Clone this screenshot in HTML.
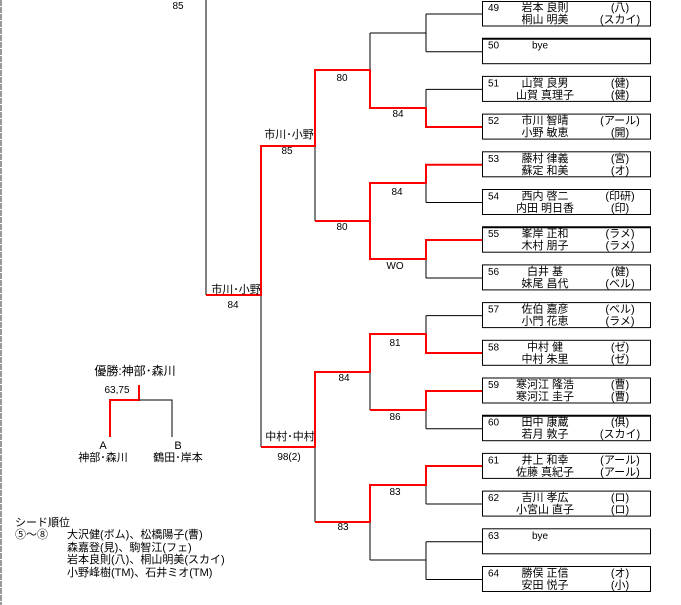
<!DOCTYPE html>
<html><head><meta charset="utf-8"><style>
html,body{margin:0;padding:0;background:#fff;width:681px;height:605px;overflow:hidden}
svg{display:block}
text{font-family:"Liberation Sans","Noto Sans CJK JP",sans-serif;font-size:11px;fill:#000}
.s{font-size:10px}
</style></head><body>
<svg width="681" height="605" viewBox="0 0 681 605" xmlns="http://www.w3.org/2000/svg">
<line x1="1" y1="0" x2="1" y2="605" stroke="#999" stroke-width="2" stroke-dasharray="6,1"/>
<g stroke="#000" stroke-width="1" fill="none">
<path d="M426 14H482M426 51.7H482M426 89.4H482M426 202.5H482M426 278H482M426 315.6H482M426 428.7H482M426 504H482M426 541.8H482M426 579.5H482"/>
<path d="M426 14V51.7M426 89.4V108M426 183V202.5M426 259V278M426 315.6V334M426 410V428.7M426 485V504M426 541.8V579.5"/>
<path d="M370 33H426M370 560H426"/>
<path d="M370 33V70M370 372V410M370 522V560"/>
<path d="M315 146V221M315 447V522M261 295V447M206 0V295"/>
</g>
<g stroke="#f00" stroke-width="2" fill="none">
<path d="M482 127H426V108H370V70H315V146H261V295H206"/>
<path d="M482 164.8H426V183H370V221H315"/>
<path d="M482 240H426V259H370V221"/>
<path d="M482 353H426V334H370V372H315V447H261"/>
<path d="M482 391H426V410H370"/>
<path d="M482 466H426V485H370V522H315"/>
<path d="M139 385V400H110V437"/>
</g>
<path d="M139 400H172V437" stroke="#000" fill="none"/>
<g fill="none" stroke="#000" stroke-width="1">
<rect x="482.5" y="1.5" width="168" height="24.5"/>
<rect x="482.5" y="38.7" width="168" height="25"/>
<rect x="482.5" y="76.4" width="168" height="25"/>
<rect x="482.5" y="114.1" width="168" height="25"/>
<rect x="482.5" y="151.8" width="168" height="25"/>
<rect x="482.5" y="189.5" width="168" height="25"/>
<rect x="482.5" y="227.2" width="168" height="25"/>
<rect x="482.5" y="264.9" width="168" height="25"/>
<rect x="482.5" y="302.6" width="168" height="25"/>
<rect x="482.5" y="340.3" width="168" height="25"/>
<rect x="482.5" y="378" width="168" height="25"/>
<rect x="482.5" y="415.7" width="168" height="25"/>
<rect x="482.5" y="453.4" width="168" height="25"/>
<rect x="482.5" y="491.1" width="168" height="25"/>
<rect x="482.5" y="528.8" width="168" height="25"/>
<rect x="482.5" y="566.5" width="168" height="25"/>
</g>
<path d="M482 38.7H651M482 227.2H651M482 415.7H651" stroke="#000" stroke-width="2"/>
<g>
<text class="s" x="488" y="11">49</text><text x="545" y="11" text-anchor="middle">岩本 良則</text><text x="620" y="11" text-anchor="middle">(八)</text>
<text x="545" y="23" text-anchor="middle">桐山 明美</text><text x="620" y="23" text-anchor="middle">(スカイ)</text>
<text class="s" x="488" y="48.7">50</text><text class="s" x="540" y="48.7" text-anchor="middle">bye</text>
<text class="s" x="488" y="86.4">51</text><text x="545" y="86.4" text-anchor="middle">山賀 良男</text><text x="620" y="86.4" text-anchor="middle">(健)</text>
<text x="545" y="98.4" text-anchor="middle">山賀 真理子</text><text x="620" y="98.4" text-anchor="middle">(健)</text>
<text class="s" x="488" y="124.1">52</text><text x="545" y="124.1" text-anchor="middle">市川 智晴</text><text x="620" y="124.1" text-anchor="middle">(アール)</text>
<text x="545" y="136.1" text-anchor="middle">小野 敏恵</text><text x="620" y="136.1" text-anchor="middle">(開)</text>
<text class="s" x="488" y="161.8">53</text><text x="545" y="161.8" text-anchor="middle">藤村 律義</text><text x="620" y="161.8" text-anchor="middle">(宮)</text>
<text x="545" y="173.8" text-anchor="middle">蘇定 和美</text><text x="620" y="173.8" text-anchor="middle">(オ)</text>
<text class="s" x="488" y="199.5">54</text><text x="545" y="199.5" text-anchor="middle">西内 啓二</text><text x="620" y="199.5" text-anchor="middle">(印研)</text>
<text x="545" y="211.5" text-anchor="middle">内田 明日香</text><text x="620" y="211.5" text-anchor="middle">(印)</text>
<text class="s" x="488" y="237.2">55</text><text x="545" y="237.2" text-anchor="middle">峯岸 正和</text><text x="620" y="237.2" text-anchor="middle">(ラメ)</text>
<text x="545" y="249.2" text-anchor="middle">木村 朋子</text><text x="620" y="249.2" text-anchor="middle">(ラメ)</text>
<text class="s" x="488" y="274.9">56</text><text x="545" y="274.9" text-anchor="middle">白井 基</text><text x="620" y="274.9" text-anchor="middle">(健)</text>
<text x="545" y="286.9" text-anchor="middle">妹尾 昌代</text><text x="620" y="286.9" text-anchor="middle">(ベル)</text>
<text class="s" x="488" y="312.6">57</text><text x="545" y="312.6" text-anchor="middle">佐伯 嘉彦</text><text x="620" y="312.6" text-anchor="middle">(ベル)</text>
<text x="545" y="324.6" text-anchor="middle">小門 花恵</text><text x="620" y="324.6" text-anchor="middle">(ラメ)</text>
<text class="s" x="488" y="350.3">58</text><text x="545" y="350.3" text-anchor="middle">中村 健</text><text x="620" y="350.3" text-anchor="middle">(ゼ)</text>
<text x="545" y="362.3" text-anchor="middle">中村 朱里</text><text x="620" y="362.3" text-anchor="middle">(ゼ)</text>
<text class="s" x="488" y="388">59</text><text x="545" y="388" text-anchor="middle">寒河江 隆浩</text><text x="620" y="388" text-anchor="middle">(曹)</text>
<text x="545" y="400" text-anchor="middle">寒河江 圭子</text><text x="620" y="400" text-anchor="middle">(曹)</text>
<text class="s" x="488" y="425.7">60</text><text x="545" y="425.7" text-anchor="middle">田中 康蔵</text><text x="620" y="425.7" text-anchor="middle">(俱)</text>
<text x="545" y="437.7" text-anchor="middle">若月 敦子</text><text x="620" y="437.7" text-anchor="middle">(スカイ)</text>
<text class="s" x="488" y="463.4">61</text><text x="545" y="463.4" text-anchor="middle">井上 和幸</text><text x="620" y="463.4" text-anchor="middle">(アール)</text>
<text x="545" y="475.4" text-anchor="middle">佐藤 真紀子</text><text x="620" y="475.4" text-anchor="middle">(アール)</text>
<text class="s" x="488" y="501.1">62</text><text x="545" y="501.1" text-anchor="middle">吉川 孝広</text><text x="620" y="501.1" text-anchor="middle">(ロ)</text>
<text x="545" y="513.1" text-anchor="middle">小宮山 直子</text><text x="620" y="513.1" text-anchor="middle">(ロ)</text>
<text class="s" x="488" y="538.8">63</text><text class="s" x="540" y="538.8" text-anchor="middle">bye</text>
<text class="s" x="488" y="576.5">64</text><text x="545" y="576.5" text-anchor="middle">勝俣 正信</text><text x="620" y="576.5" text-anchor="middle">(オ)</text>
<text x="545" y="588.5" text-anchor="middle">安田 悦子</text><text x="620" y="588.5" text-anchor="middle">(小)</text>
</g>
<g text-anchor="middle">
<text class="s" x="178" y="9">85</text>
<text class="s" x="342" y="81">80</text>
<text class="s" x="398" y="117">84</text>
<text x="289" y="138">市川･小野</text>
<text class="s" x="287" y="154">85</text>
<text class="s" x="397" y="195">84</text>
<text class="s" x="342" y="230">80</text>
<text class="s" x="395" y="269">WO</text>
<text x="236" y="293">市川･小野</text>
<text class="s" x="233" y="308">84</text>
<text class="s" x="395" y="346">81</text>
<text class="s" x="344" y="381">84</text>
<text class="s" x="395" y="420">86</text>
<text x="290" y="440">中村･中村</text>
<text class="s" x="289" y="460">98(2)</text>
<text class="s" x="395" y="495">83</text>
<text class="s" x="343" y="530">83</text>
<text x="135" y="375" style="font-size:12px">優勝:神部･森川</text>
<text class="s" x="117" y="393">63,75</text>
<text x="103" y="449">A</text>
<text x="103" y="461">神部･森川</text>
<text x="178" y="449">B</text>
<text x="178" y="461">鶴田･岸本</text>
</g>
<text x="15" y="526">シード順位</text>
<text x="15" y="538">⑤～⑧</text>
<text x="67" y="538">大沢健(ボム)、松橋陽子(曹)</text>
<text x="67" y="551">森嘉登(見)、駒智江(フェ)</text>
<text x="67" y="563">岩本良則(八)、桐山明美(スカイ)</text>
<text x="67" y="576">小野峰樹(TM)、石井ミオ(TM)</text>
</svg>
</body></html>
